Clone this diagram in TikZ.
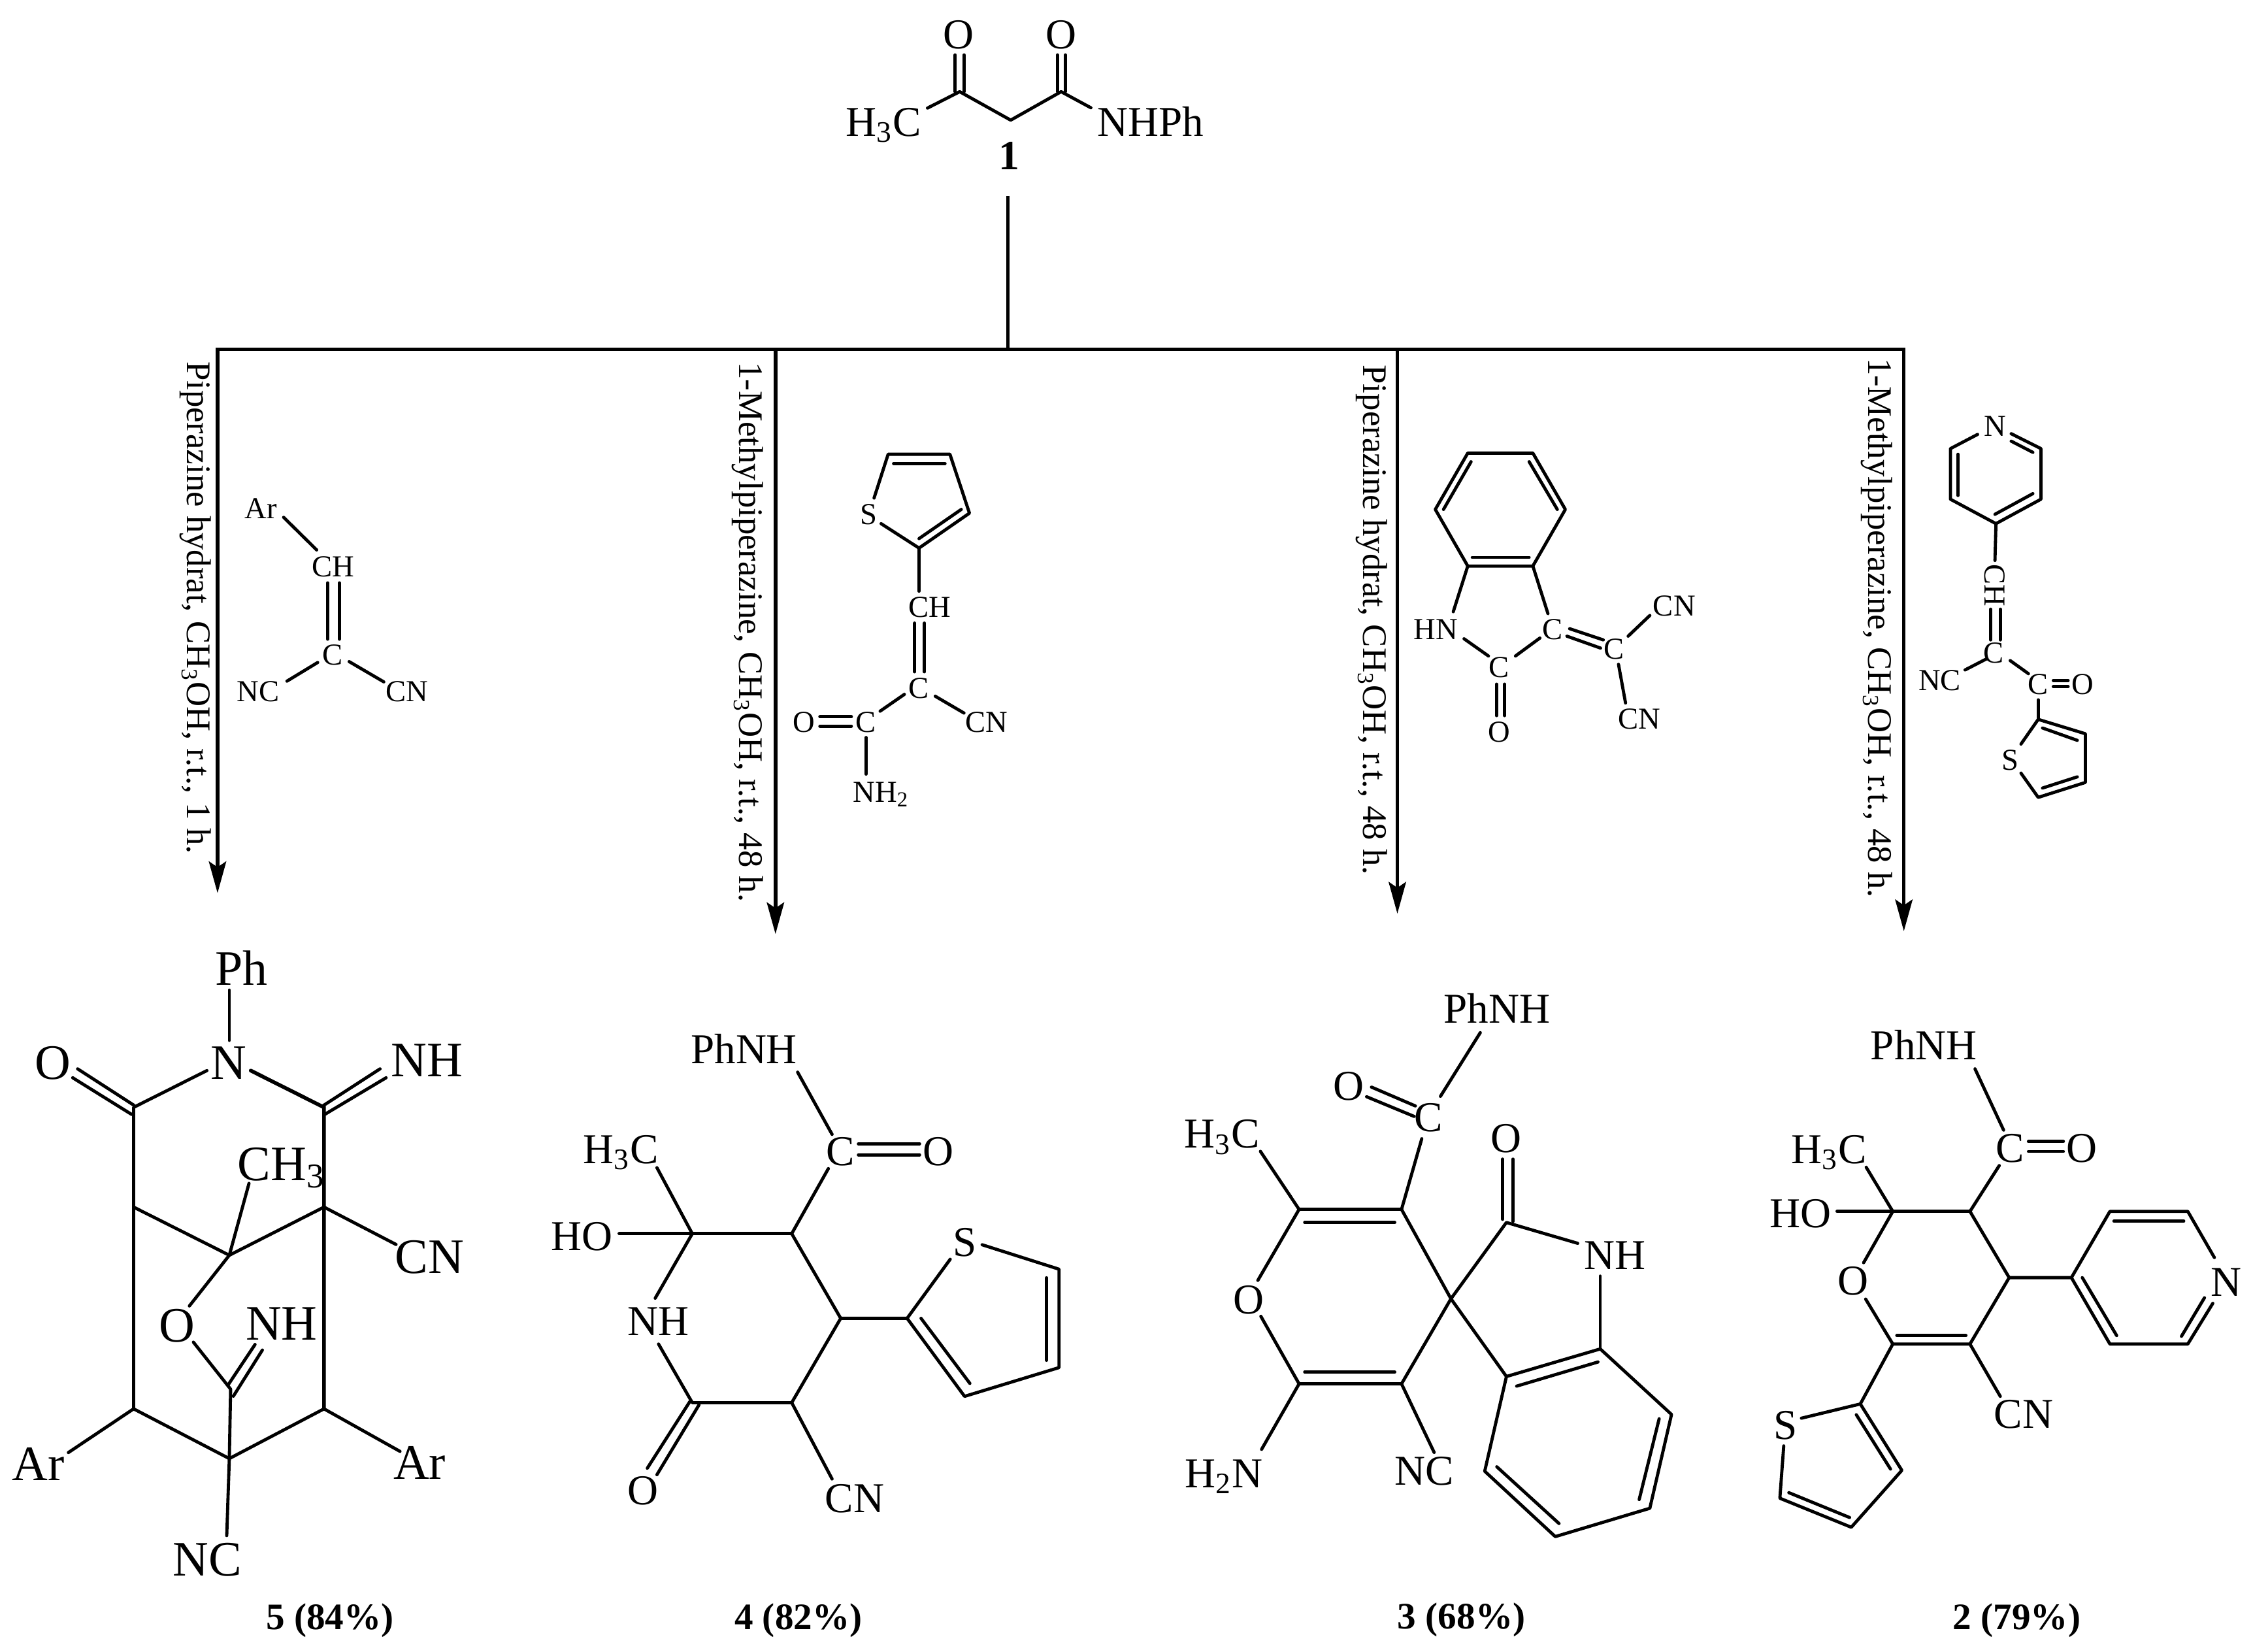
\documentclass[tikz,border=0pt]{standalone}
\usepackage{fontspec}
\setmainfont{Liberation Serif}
\usetikzlibrary{arrows.meta}
\tikzset{
  bond/.style={line width=1.1pt,line cap=round,line join=round},
  heavy/.style={line width=1.3pt,line cap=round,line join=miter},
  rail/.style={line width=1.25pt},
  arrowrail/.style={line width=1.25pt,-{Stealth[length=11pt,width=6pt,inset=2pt]}},
  atom/.style={inner sep=0pt,text depth=0pt,text height=9.8pt,font=\fontsize{14.8pt}{16pt}\selectfont},
  large/.style={inner sep=0pt,text depth=0pt,text height=11.4pt,font=\fontsize{17.25pt}{19pt}\selectfont},
  small/.style={inner sep=0pt,text depth=0pt,text height=7pt,font=\fontsize{10.6pt}{12pt}\selectfont},
  yield/.style={inner sep=0pt,text depth=0pt,text height=8.8pt,font=\bfseries\fontsize{13pt}{15pt}\selectfont},
  cond/.style={inner sep=0pt,text depth=0pt,text height=8pt,rotate=-90,font=\fontsize{12pt}{14pt}\selectfont},
}
\begin{document}
\begin{tikzpicture}[x=0.5pt,y=-0.5pt]
\fill[white] (0,0) rectangle (1568,1149.17);
\useasboundingbox (0,0) rectangle (1568,1149.17);
% ---------- compound 1
\node[atom] (t1) at (615.1,84.8) {H\textsubscript{3}C};
\node[atom] (t2) at (800.8,84.8) {NHPh};
\node[atom] (t3) at (667.3,23.9) {O};
\node[atom] (t4) at (738.3,23.9) {O};
\node[atom,font=\bfseries\fontsize{14.5pt}{16pt}\selectfont] (t5) at (702.4,108) {1};
\coordinate (ta) at (645.5,75.2);
\coordinate (tb) at (667.9,63.8);
\coordinate (tc) at (703.4,83.6);
\coordinate (td) at (738.5,63.8);
\coordinate (te) at (759.2,75);
\coordinate (tf) at (664.8,38.2);
\coordinate (tg) at (664.8,63.8);
\coordinate (th) at (670.9,38.2);
\coordinate (ti) at (670.9,63.8);
\coordinate (tj) at (735.9,38.2);
\coordinate (tk) at (735.9,63.8);
\coordinate (tl) at (741.4,38.2);
\coordinate (tm) at (741.4,63.8);
\draw[bond] (ta) -- (tb) -- (tc) -- (td) -- (te);
\draw[bond] (tf) -- (tg);
\draw[bond] (th) -- (ti);
\draw[bond] (tj) -- (tk);
\draw[bond] (tl) -- (tm);
% ---------- rails and arrows
\coordinate (b0t) at (701.4,136.4);
\coordinate (b0) at (701.4,243);
\coordinate (b1) at (151.4,243);
\coordinate (b2) at (539.7,243);
\coordinate (b3) at (972.5,243);
\coordinate (b4) at (1325,243);
\coordinate (a1) at (151.4,621.5);
\coordinate (a2) at (539.7,650);
\coordinate (a3) at (972.5,635.8);
\coordinate (a4) at (1325,648);
\draw[rail] (b0t) -- (b0);
\draw[rail,line cap=rect] (b1) -- (b4);
\draw[arrowrail] (b1) -- (a1);
\draw[arrowrail] (b2) -- (a2);
\draw[arrowrail] (b3) -- (a3);
\draw[arrowrail] (b4) -- (a4);
\node[cond] (c1) at (138.2,423) {Piperazine hydrat, CH\textsubscript{3}OH, r.t., 1 h.};
\node[cond] (c2) at (522.7,440) {1-Methylpiperazine, CH\textsubscript{3}OH, r.t., 48 h.};
\node[cond] (c3) at (956.7,431.5) {Piperazine hydrat, CH\textsubscript{3}OH, r.t., 48 h.};
\node[cond] (c4) at (1308.5,437) {1-Methylpiperazine, CH\textsubscript{3}OH, r.t., 48 h.};
% ---------- reagent: arylidene malononitrile
\node[small] (u1) at (181.6,354) {Ar};
\node[small] (u2) at (231.7,394.4) {CH};
\node[small] (u3) at (231.7,455.7) {C};
\node[small] (u4) at (179.7,481.3) {NC};
\node[small] (u5) at (283.4,481.3) {CN};
\coordinate (ua) at (197.4,360);
\coordinate (ub) at (220.4,382.7);
\coordinate (uc) at (228,405.6);
\coordinate (ud) at (228,444.8);
\coordinate (ue) at (236.2,405.6);
\coordinate (uf) at (236.2,444.8);
\coordinate (ug) at (221.1,461);
\coordinate (uh) at (199.7,474);
\coordinate (ui) at (243,460.4);
\coordinate (uj) at (267.1,474.5);
\draw[bond] (ua) -- (ub);
\draw[bond] (uc) -- (ud);
\draw[bond] (ue) -- (uf);
\draw[bond] (ug) -- (uh);
\draw[bond] (ui) -- (uj);
% ---------- reagent: thienyl cyanoacrylamide
\node[small] (v1) at (604.6,357.9) {S};
\node[small] (v2) at (647.2,422.3) {CH};
\node[small] (v3) at (639.6,478.7) {C};
\node[small] (v4) at (602.7,502.7) {C};
\node[small] (v5) at (559.3,502.7) {O};
\node[small] (v6) at (686.7,502.7) {CN};
\node[small] (v7) at (613.2,551) {NH\textsubscript{2}};
\coordinate (va) at (608.3,346.6);
\coordinate (vb) at (618.1,316.1);
\coordinate (vc) at (661.1,316.1);
\coordinate (vd) at (674.7,357.1);
\coordinate (ve) at (639.6,381.4);
\coordinate (vf) at (613.2,364.4);
\coordinate (vg) at (621.9,322.6);
\coordinate (vh) at (657.7,322.6);
\coordinate (vi) at (669,354.5);
\coordinate (vj) at (639.6,374.8);
\coordinate (vk) at (639.6,411.4);
\coordinate (vl) at (636.6,433.6);
\coordinate (vm) at (636.6,467.5);
\coordinate (vn) at (643.4,433.6);
\coordinate (vo) at (643.4,467.5);
\coordinate (vp) at (629.4,483.2);
\coordinate (vq) at (612.5,494.9);
\coordinate (vr) at (570.6,498.8);
\coordinate (vs) at (592.5,498.8);
\coordinate (vt) at (570.6,505.3);
\coordinate (vu) at (592.5,505.3);
\coordinate (vv) at (650.9,484.5);
\coordinate (vw) at (670.9,496.2);
\coordinate (vx) at (602.7,513.2);
\coordinate (vy) at (602.7,538.7);
\draw[bond] (va) -- (vb) -- (vc) -- (vd) -- (ve) -- (vf);
\draw[bond] (vg) -- (vh);
\draw[bond] (vi) -- (vj);
\draw[bond] (ve) -- (vk);
\draw[bond] (vl) -- (vm);
\draw[bond] (vn) -- (vo);
\draw[bond] (vp) -- (vq);
\draw[bond] (vr) -- (vs);
\draw[bond] (vt) -- (vu);
\draw[bond] (vv) -- (vw);
\draw[bond] (vx) -- (vy);
% ---------- reagent: isatin ylidene
\node[small] (w1) at (999.3,438) {HN};
\node[small] (w2) at (1043.4,464.4) {C};
\node[small] (w3) at (1080.4,438) {C};
\node[small] (w4) at (1123.3,451.8) {C};
\node[small] (w5) at (1165.2,421.8) {CN};
\node[small] (w6) at (1140.7,500.1) {CN};
\node[small] (w7) at (1043.4,509.2) {O};
\coordinate (wa) at (1021.5,315.3);
\coordinate (wb) at (1066.8,315.3);
\coordinate (wc) at (1089.4,354.5);
\coordinate (wd) at (1066.8,393.9);
\coordinate (we) at (1021.5,393.9);
\coordinate (wf) at (998.9,354.5);
\coordinate (wg) at (1023.8,321.3);
\coordinate (wh) at (1004.6,354.5);
\coordinate (wi) at (1064.2,321.3);
\coordinate (wj) at (1083.8,354.5);
\coordinate (wk) at (1064.2,387.9);
\coordinate (wl) at (1024.6,387.9);
\coordinate (wm) at (1011.4,425.7);
\coordinate (wn) at (1018.9,444.5);
\coordinate (wo) at (1035.9,456.5);
\coordinate (wp) at (1054.7,456.5);
\coordinate (wq) at (1071.7,444);
\coordinate (wr) at (1077.3,427);
\coordinate (ws) at (1092.4,437.5);
\coordinate (wt) at (1115.8,445.3);
\coordinate (wu) at (1090.5,442.7);
\coordinate (wv) at (1113.9,451);
\coordinate (ww) at (1133.1,442.7);
\coordinate (wx) at (1148.2,428.3);
\coordinate (wy) at (1126.4,462.3);
\coordinate (wz) at (1131.3,489.2);
\coordinate (xa) at (1041.5,476.1);
\coordinate (xb) at (1041.5,498);
\coordinate (xc) at (1047.2,476.1);
\coordinate (xd) at (1047.2,498);
\draw[bond] (wa) -- (wb) -- (wc) -- (wd) -- (we) -- (wf) -- cycle;
\draw[bond] (wg) -- (wh);
\draw[bond] (wi) -- (wj);
\draw[bond] (wk) -- (wl);
\draw[bond] (we) -- (wm);
\draw[bond] (wn) -- (wo);
\draw[bond] (wp) -- (wq);
\draw[bond] (wd) -- (wr);
\draw[bond] (ws) -- (wt);
\draw[bond] (wu) -- (wv);
\draw[bond] (ww) -- (wx);
\draw[bond] (wy) -- (wz);
\draw[bond] (xa) -- (xb);
\draw[bond] (xc) -- (xd);
% ---------- reagent: pyridyl
\node[small] (y1) at (1388.4,296.5) {N};
\node[small,rotate=-90] (y2) at (1388.4,407.5) {CH};
\node[small] (y3) at (1387.6,454.4) {C};
\node[small] (y4) at (1350,473.5) {NC};
\node[small] (y5) at (1418.5,476.1) {C};
\node[small] (y6) at (1449.4,476.1) {O};
\node[small] (y7) at (1399,528.8) {S};
\coordinate (ya) at (1376.3,302.3);
\coordinate (yb) at (1357.4,312.2);
\coordinate (yc) at (1357.4,347.4);
\coordinate (yd) at (1389.1,364.4);
\coordinate (ye) at (1420.4,347.4);
\coordinate (yf) at (1420.4,312.2);
\coordinate (yg) at (1399.7,301.8);
\coordinate (yh) at (1362.7,316.1);
\coordinate (yi) at (1362.7,344.8);
\coordinate (yj) at (1414.8,343.5);
\coordinate (yk) at (1388.4,357.9);
\coordinate (yl) at (1414.8,314.8);
\coordinate (ym) at (1399.7,307);
\coordinate (yn) at (1388.4,390);
\coordinate (yo) at (1385.4,423.9);
\coordinate (yp) at (1385.4,445.3);
\coordinate (yq) at (1392.1,423.9);
\coordinate (yr) at (1392.1,445.3);
\coordinate (ys) at (1382.7,458.4);
\coordinate (yt) at (1367.6,466.2);
\coordinate (yu) at (1399,459.7);
\coordinate (yv) at (1411.7,468.8);
\coordinate (yw) at (1429,473.5);
\coordinate (yx) at (1439.3,473.5);
\coordinate (yy) at (1429,477.9);
\coordinate (yz) at (1439.3,477.9);
\coordinate (za) at (1418.5,487);
\coordinate (zb) at (1418.5,500.6);
\coordinate (zc) at (1451.3,510.6);
\coordinate (zd) at (1451.3,544.5);
\coordinate (ze) at (1418.5,554.9);
\coordinate (zf) at (1406.5,517.8);
\coordinate (zg) at (1406.5,538);
\coordinate (zh) at (1421.5,506.6);
\coordinate (zi) at (1445.7,515.2);
\coordinate (zj) at (1445.7,540.6);
\coordinate (zk) at (1421.5,548.4);
\draw[bond] (ya) -- (yb) -- (yc) -- (yd) -- (ye) -- (yf) -- (yg);
\draw[bond] (yh) -- (yi);
\draw[bond] (yj) -- (yk);
\draw[bond] (yl) -- (ym);
\draw[bond] (yd) -- (yn);
\draw[bond] (yo) -- (yp);
\draw[bond] (yq) -- (yr);
\draw[bond] (ys) -- (yt);
\draw[bond] (yu) -- (yv);
\draw[bond] (yw) -- (yx);
\draw[bond] (yy) -- (yz);
\draw[bond] (za) -- (zb);
\draw[bond] (zf) -- (zb) -- (zc) -- (zd) -- (ze) -- (zg);
\draw[bond] (zh) -- (zi);
\draw[bond] (zj) -- (zk);
% ---------- product 5
\node[large] (p1) at (168,674) {Ph};
\node[large] (p2) at (159,739.6) {N};
\node[large] (p3) at (37,739.6) {O};
\node[large] (p4) at (297,738) {NH};
\node[large] (p5) at (196,810) {CH\textsubscript{3}};
\node[large] (p6) at (299,874.5) {CN};
\node[large] (p7) at (123,922.6) {O};
\node[large] (p8) at (196,921) {NH};
\node[large] (p9) at (26.7,1019) {Ar};
\node[large] (p10) at (292,1018) {Ar};
\node[large] (p11) at (144.3,1085) {NC};
\node[yield] (p12) at (229.7,1125) {5 (84\%)};
\coordinate (pa) at (159.6,689);
\coordinate (pb) at (159.6,724);
\coordinate (pc) at (144,745);
\coordinate (pd) at (93,770.6);
\coordinate (pe) at (174.5,745);
\coordinate (pf) at (225.5,770.6);
\coordinate (pg) at (54,743.8);
\coordinate (ph) at (93,769);
\coordinate (pi) at (50.6,750);
\coordinate (pj) at (91.6,775.5);
\coordinate (pk) at (264.5,743.8);
\coordinate (pl) at (224,770);
\coordinate (pm) at (268.7,750);
\coordinate (pn) at (226,775.5);
\coordinate (po) at (93,980.4);
\coordinate (pp) at (225.5,980.4);
\coordinate (pq) at (93,840);
\coordinate (pr) at (159.6,873.5);
\coordinate (ps) at (225.5,840);
\coordinate (pt) at (173.3,823.5);
\coordinate (pu) at (275.6,866);
\coordinate (pv) at (131.8,908.8);
\coordinate (pw) at (134.6,934);
\coordinate (px) at (160.5,966.7);
\coordinate (py) at (177.5,935.6);
\coordinate (pz) at (159,963.4);
\coordinate (qa) at (182.6,939.5);
\coordinate (qb) at (162.4,971.6);
\coordinate (qc) at (159.6,1015);
\coordinate (qd) at (47.6,1010.8);
\coordinate (qe) at (278.4,1010);
\coordinate (qf) at (157.8,1068.6);
\draw[bond] (pa) -- (pb);
\draw[bond] (pc) -- (pd) -- (po) -- (qc) -- (pp);
\draw[heavy] (pe) -- (pf) -- (pp);
\draw[bond] (pg) -- (ph);
\draw[bond] (pi) -- (pj);
\draw[bond] (pk) -- (pl);
\draw[bond] (pm) -- (pn);
\draw[bond] (pq) -- (pr) -- (ps) -- (pu);
\draw[bond] (pt) -- (pr) -- (pv);
\draw[bond] (pw) -- (px) -- (qc) -- (qf);
\draw[bond] (py) -- (pz);
\draw[bond] (qa) -- (qb);
\draw[bond] (po) -- (qd);
\draw[bond] (pp) -- (qe);
% ---------- product 4
\node[atom] (n1) at (517.8,730.4) {PhNH};
\node[atom] (n2) at (584.9,801.3) {C};
\node[atom] (n3) at (653,801.3) {O};
\node[atom] (n4) at (432.2,799.8) {H\textsubscript{3}C};
\node[atom] (n5) at (405,860.2) {HO};
\node[atom] (n6) at (458.3,919.5) {NH};
\node[atom] (n7) at (447.3,1037.2) {O};
\node[atom] (n8) at (594.8,1042.6) {CN};
\node[atom] (n9) at (671.3,864.4) {S};
\node[yield] (n10) at (555.6,1125) {4 (82\%)};
\coordinate (na) at (555.1,746.1);
\coordinate (nb) at (579.1,789.4);
\coordinate (nc) at (597.4,795.9);
\coordinate (nd) at (640,795.9);
\coordinate (ne) at (597.4,803.6);
\coordinate (nf) at (640,803.6);
\coordinate (ng) at (576.5,813.2);
\coordinate (nh) at (551,858.5);
\coordinate (ni) at (457.2,812.6);
\coordinate (nj) at (481.8,858.5);
\coordinate (nk) at (430.9,858.5);
\coordinate (nl) at (585.1,917.4);
\coordinate (nm) at (551,976.1);
\coordinate (nn) at (481.8,976.1);
\coordinate (no) at (456,903.4);
\coordinate (np) at (458.3,935.3);
\coordinate (nq) at (480,975.5);
\coordinate (nr) at (450.5,1021.7);
\coordinate (ns) at (486.5,977.6);
\coordinate (nt) at (457.2,1026.2);
\coordinate (nu) at (579.1,1029.2);
\coordinate (nv) at (631.3,917.4);
\coordinate (nw) at (661.3,876.3);
\coordinate (nx) at (683.5,866.2);
\coordinate (ny) at (737,883.2);
\coordinate (nz) at (737,951.7);
\coordinate (oa) at (671.3,971.7);
\coordinate (ob) at (728.4,889.2);
\coordinate (oc) at (728.4,946.6);
\coordinate (od) at (675,962.7);
\coordinate (oe) at (641,917.4);
\draw[bond] (na) -- (nb);
\draw[bond] (nc) -- (nd);
\draw[bond] (ne) -- (nf);
\draw[bond] (ng) -- (nh) -- (nl) -- (nm) -- (nn) -- (np);
\draw[bond] (ni) -- (nj) -- (no);
\draw[bond] (nk) -- (nj) -- (nh);
\draw[bond] (nq) -- (nr);
\draw[bond] (ns) -- (nt);
\draw[bond] (nm) -- (nu);
\draw[bond] (nl) -- (nv) -- (nw);
\draw[bond] (nx) -- (ny) -- (nz) -- (oa) -- (nv);
\draw[bond] (ob) -- (oc);
\draw[bond] (od) -- (oe);
% ---------- product 3
\node[atom] (r1) at (1041.7,701.9) {PhNH};
\node[atom] (r2) at (994.2,777.8) {C};
\node[atom] (r3) at (938.8,755.6) {O};
\node[atom] (r4) at (850.6,789) {H\textsubscript{3}C};
\node[atom] (r5) at (868.9,904.4) {O};
\node[atom] (r6) at (851.9,1025.3) {H\textsubscript{2}N};
\node[atom] (r7) at (991,1023.8) {NC};
\node[atom] (r8) at (1048.2,792) {O};
\node[atom] (r9) at (1124.1,873.4) {NH};
\node[yield] (r10) at (1017.1,1124.6) {3 (68\%)};
\coordinate (ra) at (1030.2,718.6);
\coordinate (rb) at (1002.5,762.9);
\coordinate (rc) at (954.5,756.5);
\coordinate (rd) at (985,769.6);
\coordinate (re) at (951.1,763.2);
\coordinate (rf) at (984.2,776.9);
\coordinate (rg) at (989.5,792.4);
\coordinate (rh) at (975.4,841.6);
\coordinate (ri) at (877.2,801.2);
\coordinate (rj) at (904.1,841.6);
\coordinate (rk) at (1009.8,903.8);
\coordinate (rl) at (975.4,963);
\coordinate (rm) at (904.1,963);
\coordinate (rn) at (875.4,891);
\coordinate (ro) at (877.5,916);
\coordinate (rp) at (908,850.7);
\coordinate (rq) at (970.7,850.7);
\coordinate (rr) at (908,954.8);
\coordinate (rs) at (970.7,954.8);
\coordinate (rt) at (878,1008.6);
\coordinate (ru) at (998.1,1010.7);
\coordinate (rv) at (1048.4,850.7);
\coordinate (rw) at (1045.8,806.6);
\coordinate (rx) at (1045.8,848.5);
\coordinate (ry) at (1052.9,806.6);
\coordinate (rz) at (1052.9,850);
\coordinate (sa) at (1098,865.2);
\coordinate (sb) at (1113.7,888);
\coordinate (sc) at (1113.7,938.7);
\coordinate (sd) at (1048.4,957.9);
\coordinate (se) at (1163.3,984.3);
\coordinate (sf) at (1148.2,1049.6);
\coordinate (sg) at (1082.4,1069.3);
\coordinate (sh) at (1033.3,1023.8);
\coordinate (si) at (1055.5,964.6);
\coordinate (sj) at (1112.1,947.8);
\coordinate (sk) at (1154.7,987.3);
\coordinate (sl) at (1140.8,1043.5);
\coordinate (sm) at (1085,1060.2);
\coordinate (sn) at (1041.7,1020.7);
\draw[bond] (ra) -- (rb);
\draw[bond] (rc) -- (rd);
\draw[bond] (re) -- (rf);
\draw[bond] (rg) -- (rh) -- (rk) -- (rl) -- (rm) -- (ro);
\draw[bond] (ri) -- (rj) -- (rn);
\draw[bond] (rj) -- (rh);
\draw[bond] (rp) -- (rq);
\draw[bond] (rr) -- (rs);
\draw[bond] (rm) -- (rt);
\draw[bond] (rl) -- (ru);
\draw[bond] (rk) -- (rv) -- (sa);
\draw[bond] (rw) -- (rx);
\draw[bond] (ry) -- (rz);
\draw[bond] (sb) -- (sc);
\draw[bond] (rk) -- (sd) -- (sc) -- (se) -- (sf) -- (sg) -- (sh) -- (sd);
\draw[bond] (si) -- (sj);
\draw[bond] (sk) -- (sl);
\draw[bond] (sm) -- (sn);
% ---------- product 2
\node[atom] (g1) at (1338.9,727.7) {PhNH};
\node[atom] (g2) at (1399,798.9) {C};
\node[atom] (g3) at (1448.8,798.9) {O};
\node[atom] (g4) at (1272.9,799.8) {H\textsubscript{3}C};
\node[atom] (g5) at (1253.2,844.5) {HO};
\node[atom] (g6) at (1289.6,891.5) {O};
\node[atom] (g7) at (1408.3,983.9) {CN};
\node[atom] (g8) at (1242.8,991.9) {S};
\node[atom] (g9) at (1549.2,892.1) {N};
\node[yield] (g10) at (1403.6,1125) {2 (79\%)};
\coordinate (ga) at (1374.5,743.8);
\coordinate (gb) at (1394.4,786.4);
\coordinate (gc) at (1411.7,794.4);
\coordinate (gd) at (1436,794.4);
\coordinate (ge) at (1411.7,801.3);
\coordinate (gf) at (1436,801.3);
\coordinate (gg) at (1391.4,811.1);
\coordinate (gh) at (1371,843);
\coordinate (gi) at (1298.8,812.3);
\coordinate (gj) at (1317.3,843);
\coordinate (gk) at (1278.5,843);
\coordinate (gl) at (1297,878.7);
\coordinate (gm) at (1298.4,904);
\coordinate (gn) at (1317.3,935.3);
\coordinate (go) at (1371,935.3);
\coordinate (gp) at (1398.3,889.1);
\coordinate (gq) at (1320.1,929.4);
\coordinate (gr) at (1368.2,929.4);
\coordinate (gs) at (1392.1,971.7);
\coordinate (gt) at (1294.7,977);
\coordinate (gu) at (1253.7,986.9);
\coordinate (gv) at (1323.6,1023.2);
\coordinate (gw) at (1291.9,984.5);
\coordinate (gx) at (1315.7,1022.3);
\coordinate (gy) at (1288.4,1062.8);
\coordinate (gz) at (1238.7,1042.6);
\coordinate (ha) at (1287.2,1056);
\coordinate (hb) at (1244.9,1038.7);
\coordinate (hc) at (1241.4,1006.2);
\coordinate (hd) at (1441.6,889.1);
\coordinate (he) at (1468.4,843);
\coordinate (hf) at (1522.6,843);
\coordinate (hg) at (1541.1,875.1);
\coordinate (hh) at (1540,907);
\coordinate (hi) at (1522.6,935.3);
\coordinate (hj) at (1468.4,935.3);
\coordinate (hk) at (1471.2,849.8);
\coordinate (hl) at (1519.8,849.8);
\coordinate (hm) at (1449.2,889.1);
\coordinate (hn) at (1473.1,929.4);
\coordinate (ho) at (1534.2,903.1);
\coordinate (hp) at (1518.2,929.9);
\draw[bond] (ga) -- (gb);
\draw[bond] (gc) -- (gd);
\draw[bond] (ge) -- (gf);
\draw[bond] (gg) -- (gh) -- (gp) -- (go) -- (gn) -- (gm);
\draw[bond] (gi) -- (gj) -- (gl);
\draw[bond] (gk) -- (gj) -- (gh);
\draw[bond] (gq) -- (gr);
\draw[bond] (go) -- (gs);
\draw[bond] (gn) -- (gt) -- (gu);
\draw[bond] (gt) -- (gv) -- (gy) -- (gz) -- (hc);
\draw[bond] (gw) -- (gx);
\draw[bond] (ha) -- (hb);
\draw[bond] (gp) -- (hd) -- (he) -- (hf) -- (hg);
\draw[bond] (hd) -- (hj) -- (hi) -- (hh);
\draw[bond] (hk) -- (hl);
\draw[bond] (hm) -- (hn);
\draw[bond] (ho) -- (hp);
\end{tikzpicture}
\end{document}
